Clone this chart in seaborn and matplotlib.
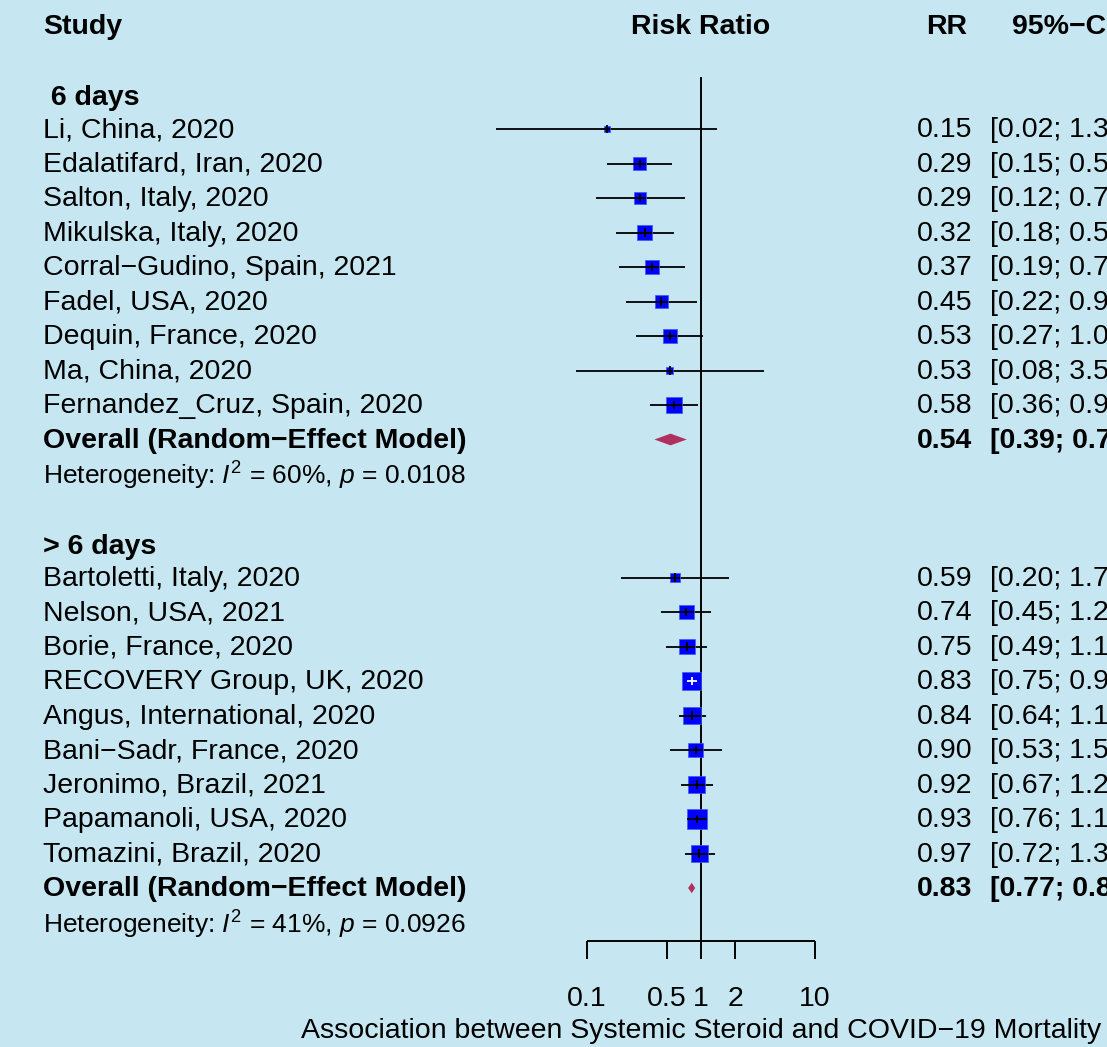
import matplotlib
matplotlib.use("Agg")
import matplotlib.pyplot as plt
import seaborn as sns
import numpy as np
import pandas as pd

# Subgroup "6 days"
studies_6 = ["Li, China, 2020", "Edalatifard, Iran, 2020", "Salton, Italy, 2020",
             "Mikulska, Italy, 2020", "Corral\u2212Gudino, Spain, 2021", "Fadel, USA, 2020",
             "Dequin, France, 2020", "Ma, China, 2020", "Fernandez_Cruz, Spain, 2020"]
rr_6 = [0.15, 0.29, 0.29, 0.32, 0.37, 0.45, 0.53, 0.53, 0.58]
lo_6 = [0.016, 0.15, 0.12, 0.18, 0.19, 0.22, 0.27, 0.08, 0.36]
hi_6 = [1.38, 0.56, 0.72, 0.58, 0.73, 0.92, 1.04, 3.55, 0.94]
w_6 = [0.9, 4.3, 3.7, 5.5, 5.0, 4.5, 5.0, 1.1, 6.5]
pooled_6 = (0.54, 0.39, 0.75)
het_6 = ("60%", "0.0108")

# Subgroup "> 6 days"
studies_7 = ["Bartoletti, Italy, 2020", "Nelson, USA, 2021", "Borie, France, 2020",
             "RECOVERY Group, UK, 2020", "Angus, International, 2020",
             "Bani\u2212Sadr, France, 2020", "Jeronimo, Brazil, 2021",
             "Papamanoli, USA, 2020", "Tomazini, Brazil, 2020"]
rr_7 = [0.59, 0.74, 0.75, 0.83, 0.84, 0.90, 0.92, 0.93, 0.97]
lo_7 = [0.20, 0.45, 0.49, 0.75, 0.64, 0.53, 0.67, 0.76, 0.72]
hi_7 = [1.75, 1.22, 1.14, 0.92, 1.10, 1.54, 1.27, 1.14, 1.32]
w_7 = [2.5, 5.7, 6.5, 9.2, 8.2, 5.7, 7.3, 10.2, 8.2]
pooled_7 = (0.83, 0.77, 0.89)
het_7 = ("41%", "0.0926")

axis_ticks = [0.1, 0.5, 1, 2, 10]
axis_ticklabels = ["0.1", "0.5", "1", "2", "10"]

BG = "#c6e7f1"
FS = 20.5
FS_HET = 19
VA = "center_baseline"
DY = -0.05   # small lift of the text rows
plt.rcParams["font.family"] = ["Liberation Sans", "DejaVu Sans"]
plt.rcParams["mathtext.fontset"] = "custom"
plt.rcParams["mathtext.rm"] = "Liberation Sans"
plt.rcParams["mathtext.it"] = "Liberation Sans:italic"

W, H = 1107, 1047
PX_DEC = 114.0      # pixels per decade
X0 = 701.0          # pixel of RR = 1
ROW0, ROWH = 129.0, 34.5

fig = plt.figure(figsize=(W / 100, H / 100), dpi=100, facecolor=BG)
ax = fig.add_axes([0, 0, 1, 1], facecolor=BG)
ax.set_xscale("log")
ax.set_xlim(10 ** (-X0 / PX_DEC), 10 ** ((W - X0) / PX_DEC))
ax.set_ylim((H - ROW0) / ROWH, -ROW0 / ROWH)
ax.axis("off")
tx = ax.get_yaxis_transform()   # x in figure fraction, y in rows


def fx(px):
    return px / W


# build the study table
rows = []
groups = [(" 6 days", studies_6, rr_6, lo_6, hi_6, w_6, pooled_6, het_6, 0),
          ("> 6 days", studies_7, rr_7, lo_7, hi_7, w_7, pooled_7, het_7, 13)]
for label, st, rr, lo, hi, w, pooled, het, start in groups:
    for i in range(len(st)):
        rows.append(dict(study=st[i], rr=rr[i], lo=lo[i], hi=hi[i], w=w[i], row=start + i))
df = pd.DataFrame(rows)

# box side in pixels ~ sqrt(weight)
wmax = df["w"].max()
side_px = 20 * np.sqrt(df["w"] / wmax)

# CI lines under the boxes
ax.hlines(df["row"], df["lo"], df["hi"], color="black", lw=1.3, zorder=2)

sns.scatterplot(data=df, x="rr", y="row", size="w", sizes=(0, (20 * 0.72) ** 2),
                size_norm=(0, wmax), marker="s", color="blue", edgecolor="#3a5cf0",
                linewidth=0.5, legend=False, ax=ax, zorder=3)

# part of the CI and the estimate tick drawn over the box
for (_, r), s in zip(df.iterrows(), side_px):
    half = s / 2 / PX_DEC
    inside = np.log10(r.lo) >= np.log10(r.rr) - half and np.log10(r.hi) <= np.log10(r.rr) + half
    c = "white" if inside else "black"
    ax.hlines(r.row, max(r.lo, r.rr * 10 ** -half), min(r.hi, r.rr * 10 ** half),
              color=c, lw=1.3, zorder=4)
    ax.vlines(r.rr, r.row - 0.13, r.row + 0.13, color=c, lw=1.3, zorder=4)

# reference line at 1 and x axis
ax.vlines(1, -1.5, 23.55, color="black", lw=1.4, zorder=1)
ax.hlines(23.55, axis_ticks[0], axis_ticks[-1], color="black", lw=1.4)
for t, lab in zip(axis_ticks, axis_ticklabels):
    ax.vlines(t, 23.55, 24.05, color="black", lw=1.4)
    ax.text(t, 25.12, lab, ha="center", va=VA, fontsize=FS)
ax.text(1, 26.05, "Association between Systemic Steroid and COVID\u221219 Mortality",
        ha="center", va=VA, fontsize=FS)

# headers
hy = (26 - ROW0) / ROWH + DY
ax.text(fx(43), hy, "Study", transform=tx, ha="left", va=VA, fontsize=FS, fontweight="bold")
ax.text(1, hy, "Risk Ratio", ha="center", va=VA, fontsize=FS, fontweight="bold")
ax.text(fx(967), hy, "RR", transform=tx, ha="right", va=VA, fontsize=FS, fontweight="bold")
ax.text(fx(1012), hy, "95%\u2212CI", transform=tx, ha="left", va=VA, fontsize=FS, fontweight="bold")

for label, st, rr, lo, hi, w, pooled, het, start in groups:
    ax.text(fx(43), start - 0.93 + DY, label, transform=tx, ha="left", va=VA,
            fontsize=FS, fontweight="bold")
    for i in range(len(st)):
        y = start + i + DY
        ax.text(fx(43), y, st[i], transform=tx, ha="left", va=VA, fontsize=FS)
        ax.text(fx(972), y, f"{rr[i]:.2f}", transform=tx, ha="right", va=VA, fontsize=FS)
        ax.text(fx(990), y, f"[{lo[i]:.2f}; {hi[i]:.2f}]", transform=tx, ha="left",
                va=VA, fontsize=FS)
    yo = start + len(st)
    p_rr, p_lo, p_hi = pooled
    dh = 0.17 if start == 0 else 0.15
    ax.fill([p_lo, p_rr, p_hi, p_rr], [yo, yo - dh, yo, yo + dh], color="#b03060", lw=0, zorder=3)
    ax.text(fx(43), yo + DY, "Overall (Random\u2212Effect Model)", transform=tx, ha="left",
            va=VA, fontsize=FS, fontweight="bold")
    ax.text(fx(972), yo + DY, f"{p_rr:.2f}", transform=tx, ha="right", va=VA,
            fontsize=FS, fontweight="bold")
    ax.text(fx(990), yo + DY, f"[{p_lo:.2f}; {p_hi:.2f}]", transform=tx, ha="left",
            va=VA, fontsize=FS, fontweight="bold")
    ax.text(fx(43), yo + 1 + DY, f"Heterogeneity: $I^2$ = {het[0]}, $p$ = {het[1]}",
            transform=tx, ha="left", va=VA, fontsize=FS_HET)

fig.savefig("out.png", dpi=100, facecolor=BG)
